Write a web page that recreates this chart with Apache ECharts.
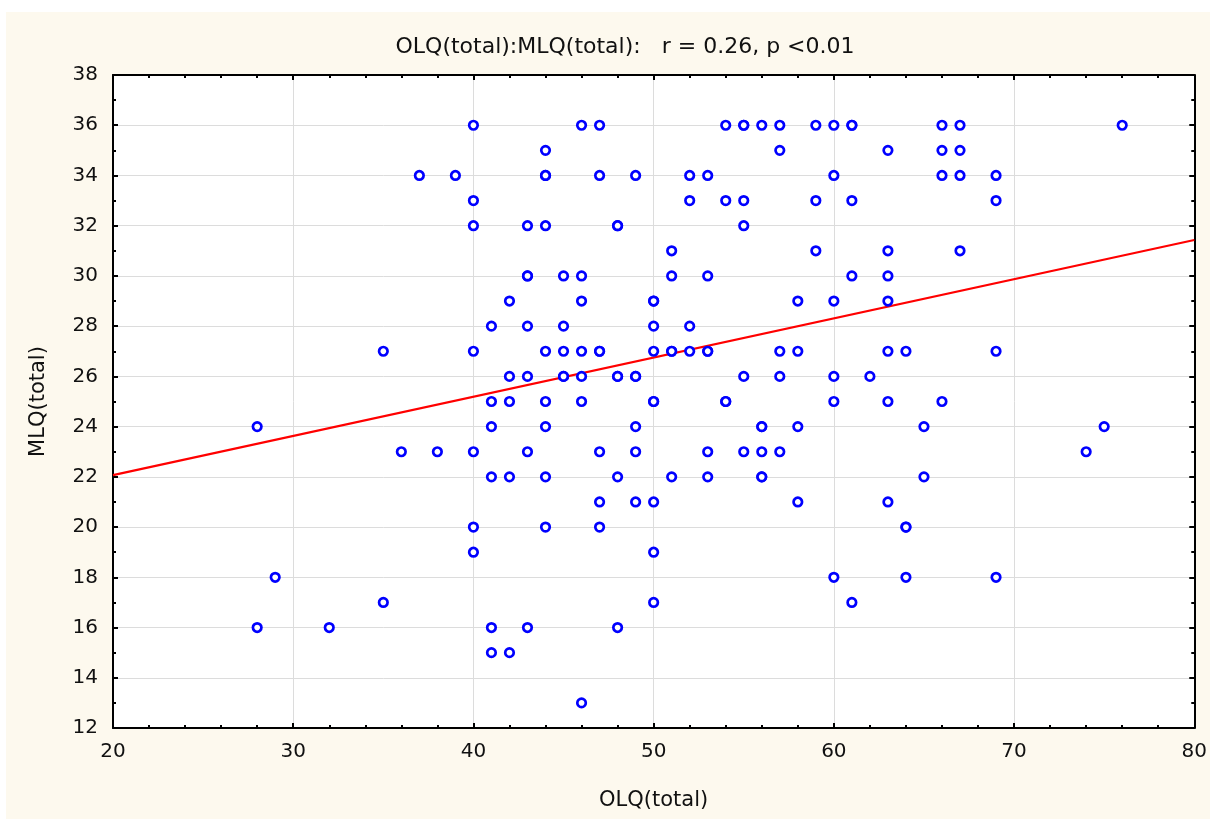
<!DOCTYPE html>
<html>
<head>
<meta charset="utf-8">
<script src="https://cdn.jsdelivr.net/npm/echarts@6/dist/echarts.min.js"></script>
<style>
  html, body { margin: 0; padding: 0; background: #ffffff; }
  #chart { position: absolute; left: 6px; top: 12px; width: 1204px; height: 807px; }
</style>
</head>
<body>
<div id="chart"></div>
<script>
// OLQ(total) values (x) and MLQ(total) values (y)
const olq = [
  40,46,47,54,55,55,56,57,59,60,61,61,66,67,76,
  44,57,63,66,67,
  37,39,44,44,47,49,52,53,60,66,67,69,
  40,52,54,55,59,61,69,
  40,43,44,48,48,55,
  51,59,63,67,
  43,43,45,46,51,53,61,63,
  42,46,50,50,58,60,63,
  41,43,45,50,52,
  35,40,44,45,46,47,47,50,51,51,52,53,53,57,58,63,64,69,
  42,43,45,45,46,48,48,49,49,55,57,60,62,
  41,42,44,46,50,50,54,54,60,63,66,
  28,41,44,49,56,56,58,65,75,
  36,38,40,43,47,49,53,55,56,57,74,
  41,42,44,48,51,53,56,56,65,
  47,49,50,58,63,
  40,44,47,64,64,
  40,50,
  29,60,64,69,
  35,50,61,
  28,32,41,43,48,
  41,42,
  46
];
const mlq = [
  36,36,36,36,36,36,36,36,36,36,36,36,36,36,36,
  35,35,35,35,35,
  34,34,34,34,34,34,34,34,34,34,34,34,
  33,33,33,33,33,33,33,
  32,32,32,32,32,32,
  31,31,31,31,
  30,30,30,30,30,30,30,30,
  29,29,29,29,29,29,29,
  28,28,28,28,28,
  27,27,27,27,27,27,27,27,27,27,27,27,27,27,27,27,27,27,
  26,26,26,26,26,26,26,26,26,26,26,26,26,
  25,25,25,25,25,25,25,25,25,25,25,
  24,24,24,24,24,24,24,24,24,
  23,23,23,23,23,23,23,23,23,23,23,
  22,22,22,22,22,22,22,22,22,
  21,21,21,21,21,
  20,20,20,20,20,
  19,19,
  18,18,18,18,
  17,17,17,
  16,16,16,16,16,
  15,15,
  13
];
// Fitted regression line end points
const fitX = [20, 80];
const fitY = [22.07, 31.43];

const titleText = 'OLQ(total):MLQ(total):   r = 0.26, p <0.01';
const xName = 'OLQ(total)';
const yName = 'MLQ(total)';

const points = olq.map((x, i) => [x, mlq[i]]);
const fitLine = fitX.map((x, i) => [x, fitY[i]]);

const FONT = 'DejaVu Sans';
const labelStyle = { fontFamily: FONT, fontSize: 20, color: '#111' };
const nameStyle = { fontFamily: FONT, fontSize: 21, color: '#111' };
const lineStyle = { color: '#000', width: 2 };

const chart = echarts.init(document.getElementById('chart'), null, { renderer: 'canvas' });
chart.setOption({
  backgroundColor: '#fdf9ee',
  animation: false,
  title: {
    text: titleText,
    left: 614,
    textAlign: 'center',
    top: 19,
    textStyle: { fontFamily: FONT, fontSize: 22, fontWeight: 'normal', color: '#111' }
  },
  grid: {
    left: 107, top: 63, width: 1084, height: 653,
    show: true, backgroundColor: '#ffffff', borderWidth: 0
  },
  xAxis: [
    {
      type: 'value', position: 'bottom', min: 20, max: 80, interval: 10,
      name: xName, nameLocation: 'middle', nameGap: 62,
      nameTextStyle: nameStyle,
      axisLine: { show: true, onZero: false, lineStyle },
      axisTick: { show: true, inside: true, length: 5, lineStyle: { color: '#000', width: 2 } },
      minorTick: { show: true, splitNumber: 5, length: 3, lineStyle: { color: '#000', width: 2 } },
      axisLabel: Object.assign({ margin: 14 }, labelStyle),
      splitLine: { show: true, lineStyle: { color: '#dcdcdc', width: 1 } }
    },
    {
      type: 'value', position: 'top', min: 20, max: 80, interval: 10,
      axisLine: { show: true, onZero: false, lineStyle },
      axisTick: { show: true, inside: true, length: 5, lineStyle: { color: '#000', width: 2 } },
      minorTick: { show: true, splitNumber: 5, length: 3, lineStyle: { color: '#000', width: 2 } },
      axisLabel: { show: false },
      splitLine: { show: false }
    }
  ],
  yAxis: [
    {
      type: 'value', position: 'left', min: 12, max: 38, interval: 2,
      name: yName, nameLocation: 'middle', nameGap: 64,
      nameTextStyle: nameStyle,
      axisLine: { show: true, onZero: false, lineStyle },
      axisTick: { show: true, inside: true, length: 5, lineStyle: { color: '#000', width: 2 } },
      minorTick: { show: true, splitNumber: 2, length: 3, lineStyle: { color: '#000', width: 2 } },
      axisLabel: Object.assign({ margin: 15 }, labelStyle),
      splitLine: { show: true, lineStyle: { color: '#dcdcdc', width: 1 } }
    },
    {
      type: 'value', position: 'right', min: 12, max: 38, interval: 2,
      axisLine: { show: true, onZero: false, lineStyle },
      axisTick: { show: true, inside: true, length: 5, lineStyle: { color: '#000', width: 2 } },
      minorTick: { show: true, splitNumber: 2, length: 3, lineStyle: { color: '#000', width: 2 } },
      axisLabel: { show: false },
      splitLine: { show: false }
    }
  ],
  series: [
    {
      type: 'line',
      data: fitLine,
      xAxisIndex: 0, yAxisIndex: 0,
      showSymbol: false,
      lineStyle: { color: '#ff0000', width: 2.2 },
      z: 2
    },
    {
      type: 'scatter',
      data: points,
      xAxisIndex: 0, yAxisIndex: 0,
      symbol: 'circle',
      symbolSize: 8.5,
      itemStyle: { color: '#ffffff', borderColor: '#0000ff', borderWidth: 2.7, opacity: 1 },
      z: 3
    }
  ]
});
</script>
</body>
</html>
